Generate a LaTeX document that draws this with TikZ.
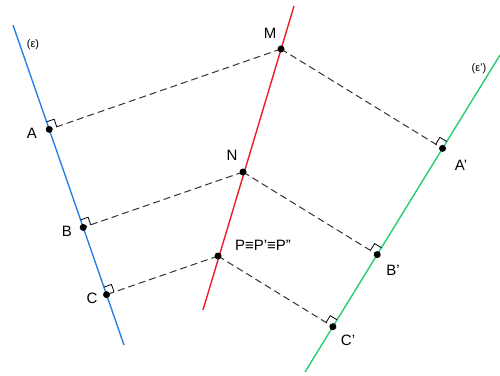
\documentclass[tikz,border=0pt]{standalone}
\usepackage{fontspec}
\setmainfont{Liberation Sans}
\usetikzlibrary{calc}
\definecolor{lblue}{RGB}{40,130,230}
\definecolor{lred}{RGB}{235,30,35}
\definecolor{lgreen}{RGB}{40,205,110}
\newcommand\ramark[3]{%
  \draw[ramk] ($(#1)!8pt!(#2)$) -- ($($(#1)!8pt!(#2)$)+($(#1)!8pt!(#3)$)-(#1)$) -- ($(#1)!8pt!(#3)$);}
\begin{document}
\begin{tikzpicture}[x=1pt,y=-1pt,
  mainline/.style={line width=1.4pt},
  proj/.style={line width=1pt,black!80,dash pattern=on 7pt off 4pt},
  ramk/.style={line width=0.8pt,black},
  dot/.style={circle,fill=black,inner sep=0pt,minimum size=7pt},
  lbl/.style={font=\fontsize{15}{17}\selectfont},
  sml/.style={font=\fontsize{11}{13}\selectfont}]
\useasboundingbox (0,0) rectangle (500,375);
% lines
\coordinate (b1) at (13,25);
\coordinate (b2) at (124,345);
\coordinate (r1) at (294,6);
\coordinate (r2) at (203,310);
\coordinate (g1) at (305,372);
\coordinate (g2) at (500,55);
\draw[mainline,lblue] (b1) -- (b2);
\draw[mainline,lred] (r1) -- (r2);
\draw[mainline,lgreen] (g1) -- (g2);
% points on red line
\coordinate (M) at (281,49);
\coordinate (N) at (243,172);
\coordinate (P) at (218,256);
% projections
\coordinate (A) at ($(b1)!(M)!(b2)$);
\coordinate (B) at ($(b1)!(N)!(b2)$);
\coordinate (C) at ($(b1)!(P)!(b2)$);
\coordinate (A2) at ($(g1)!(M)!(g2)$);
\coordinate (B2) at ($(g1)!(N)!(g2)$);
\coordinate (C2) at ($(g1)!(P)!(g2)$);
% dashed projections
\draw[proj] (M) -- (A);
\draw[proj] (M) -- (A2);
\draw[proj] (N) -- (B);
\draw[proj] (N) -- (B2);
\draw[proj] (P) -- (C);
\draw[proj] (P) -- (C2);
% right angle marks
\ramark{A}{M}{b1}
\ramark{B}{N}{b1}
\ramark{C}{P}{b1}
\ramark{A2}{M}{g2}
\ramark{B2}{N}{g2}
\ramark{C2}{P}{g2}
% dots
\foreach \p in {M,N,P,A,B,C,A2,B2,C2} \node[dot] at (\p) {};
% labels
\node[lbl] (lM) at (270,33) {M};
\node[lbl] (lN) at (232,155) {N};
\node[lbl] (lP) at (263,245) {P≡P'≡P''};
\node[lbl] (lA) at (32,133) {A};
\node[lbl] (lB) at (67,231) {B};
\node[lbl] (lC) at (92,298) {C};
\node[lbl] (lA2) at (461,165) {A'};
\node[lbl] (lB2) at (393,270) {B'};
\node[lbl] (lC2) at (348,340) {C'};
\node[sml] (le) at (33,45) {(ε)};
\node[sml] (le2) at (479,69) {(ε')};
\end{tikzpicture}
\end{document}
